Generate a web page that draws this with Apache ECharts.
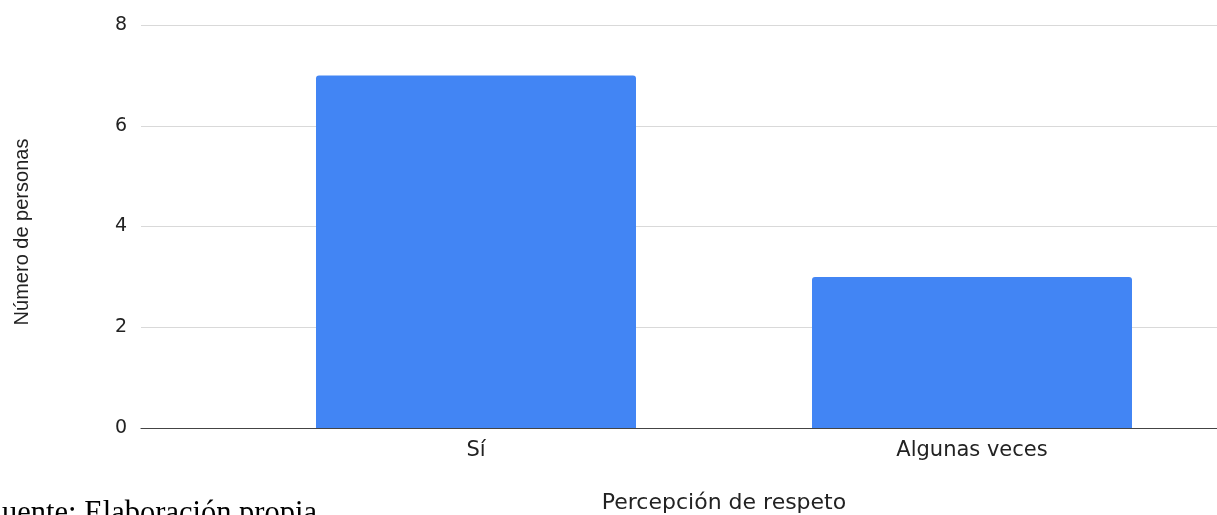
<!DOCTYPE html>
<html>
<head>
<meta charset="utf-8">
<script src="https://cdn.jsdelivr.net/npm/echarts@6/dist/echarts.min.js"></script>
<style>
html,body{margin:0;padding:0;background:#fff;}
#c{width:1217px;height:515px;}
</style>
</head>
<body>
<div id="c"></div>
<script>
const categories = ['Sí', 'Algunas veces'];
const personas = [7, 3];
const yTicks = [0, 2, 4, 6, 8];
const yTitle = 'Número de personas';
const xTitle = 'Percepción de respeto';
const footnote = 'uente: Elaboración propia';

const yMin = yTicks[0], yMax = yTicks[yTicks.length - 1], yStep = yTicks[1] - yTicks[0];
const chart = echarts.init(document.getElementById('c'), null, {renderer: 'canvas'});
const gridTop = 25, gridBottom = 87;
const textColor = '#222';
chart.setOption({
  animation: false,
  backgroundColor: '#fff',
  grid: [
    {left: 228, width: 992, top: gridTop, bottom: gridBottom, containLabel: false, outerBoundsMode: 'none'},
    {left: 141, width: 87, top: gridTop, bottom: gridBottom, containLabel: false, outerBoundsMode: 'none'}
  ],
  xAxis: [
    {
      type: 'category', gridIndex: 0, data: categories,
      axisLine: {show: true, lineStyle: {color: '#444', width: 1.2}},
      axisTick: {show: false},
      axisLabel: {color: textColor, fontFamily: 'DejaVu Sans', fontSize: 21, margin: 12},
      name: xTitle, nameLocation: 'middle', nameGap: 64,
      nameTextStyle: {color: textColor, fontFamily: 'DejaVu Sans', fontSize: 22}
    },
    {
      type: 'category', gridIndex: 1, data: [''],
      axisLine: {show: true, lineStyle: {color: '#444', width: 1.2}},
      axisTick: {show: false}, axisLabel: {show: false}
    }
  ],
  yAxis: [
    {
      type: 'value', gridIndex: 0, min: yMin, max: yMax, interval: yStep,
      axisLine: {show: false}, axisTick: {show: false}, axisLabel: {show: false},
      splitLine: {show: true, lineStyle: {color: '#d9d9d9', width: 1}}
    },
    {
      type: 'value', gridIndex: 1, min: yMin, max: yMax, interval: yStep,
      axisLine: {show: false}, axisTick: {show: false},
      axisLabel: {color: textColor, fontFamily: 'DejaVu Sans', fontSize: 19, margin: 14},
      splitLine: {show: true, lineStyle: {color: '#d9d9d9', width: 1}},
      name: yTitle, nameLocation: 'middle', nameGap: 109,
      nameTextStyle: {color: textColor, fontFamily: 'Liberation Sans', fontSize: 20, padding: [0, 11, 0, 0]}
    }
  ],
  series: [{
    type: 'bar', xAxisIndex: 0, yAxisIndex: 0, data: personas,
    barWidth: 320,
    itemStyle: {color: '#4285F4', borderRadius: [3, 3, 0, 0]}
  }],
  graphic: [{
    type: 'text', left: 2, top: 498,
    style: {text: footnote, fill: '#000', font: '30.5px "Liberation Serif"'}
  }]
});
</script>
</body>
</html>
